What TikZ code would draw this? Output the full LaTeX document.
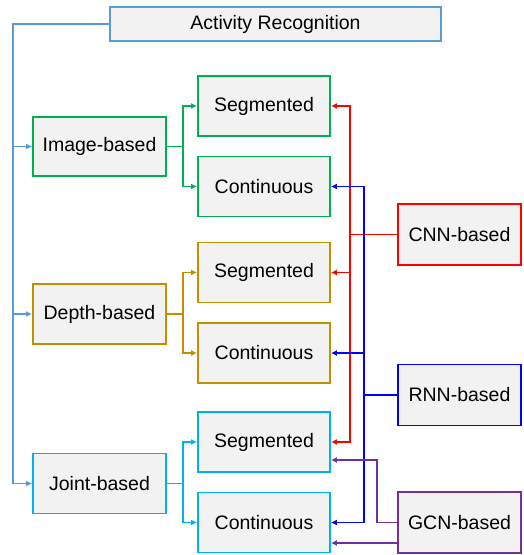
\documentclass[tikz,border=0pt]{standalone}
\usepackage{fontspec}
\setmainfont{Liberation Sans}
\usetikzlibrary{arrows.meta}
\definecolor{topblue}{HTML}{5B9BD5}
\definecolor{imggreen}{HTML}{00B050}
\definecolor{depgold}{HTML}{BF9000}
\definecolor{jntcyan}{HTML}{00B0F0}
\definecolor{gcnpurple}{HTML}{7030A0}
\definecolor{boxfill}{HTML}{F2F2F2}

\begin{document}
\begin{tikzpicture}[x=1pt,y=-1pt,line width=1.9pt,
  box/.style={draw,fill=boxfill,minimum width=132pt,minimum height=60pt,
    inner sep=0pt,font=\fontsize{19.5}{23}\selectfont},
  arr/.style={-{Latex[length=6pt,width=6pt]}}]
  \useasboundingbox (0,0) rectangle (523,555);
  \node[box,draw=topblue,minimum width=331pt,minimum height=34pt] (act) at (275.5,24) {Activity Recognition};
  \node[box,draw=imggreen,minimum width=133pt,minimum height=59pt] (img) at (99.5,146.5) {Image-based};
  \node[box,draw=imggreen] (imgseg) at (264,106) {Segmented};
  \node[box,draw=imggreen] (imgcon) at (264,186.5) {Continuous};
  \node[box,draw=depgold,minimum width=133pt] (dep) at (99.5,314) {Depth-based};
  \node[box,draw=depgold] (depseg) at (264,272.5) {Segmented};
  \node[box,draw=depgold] (depcon) at (264,353) {Continuous};
  \node[box,draw=jntcyan,minimum width=133pt] (jnt) at (99.5,483.5) {Joint-based};
  \node[box,draw=jntcyan] (jntseg) at (264,442) {Segmented};
  \node[box,draw=jntcyan] (jntcon) at (264,522.5) {Continuous};
  \node[box,draw=red,minimum width=123pt,minimum height=61pt] (cnn) at (459.5,234.5) {CNN-based};
  \node[box,draw=blue,minimum width=123pt,minimum height=61pt] (rnn) at (459.5,395) {RNN-based};
  \node[box,draw=gcnpurple,minimum width=123pt,minimum height=61pt] (gcn) at (459.5,522.5) {GCN-based};

  \coordinate (trunk) at (13,24);
  \draw[topblue] (act.west) -- (trunk) -- (trunk |- jnt.west);
  \draw[topblue,arr] (trunk |- img.west) -- (img.west);
  \draw[topblue,arr] (trunk |- dep.west) -- (dep.west);
  \draw[topblue,arr] (trunk |- jnt.west) -- (jnt.west);

  \draw[imggreen] (img.east) -- ++(16,0) coordinate (gi);
  \draw[imggreen,arr] (gi) |- (imgseg.west);
  \draw[imggreen,arr] (gi) |- (imgcon.west);
  \draw[depgold] (dep.east) -- ++(16,0) coordinate (gd);
  \draw[depgold,arr] (gd) |- (depseg.west);
  \draw[depgold,arr] (gd) |- (depcon.west);
  \draw[jntcyan] (jnt.east) -- ++(16,0) coordinate (gj);
  \draw[jntcyan,arr] (gj) |- (jntseg.west);
  \draw[jntcyan,arr] (gj) |- (jntcon.west);

  \coordinate (cb) at (350,234.5);
  \draw[red] (cnn.west) -- (cb);
  \draw[red,arr] (cb) |- (imgseg.east);
  \draw[red,arr] (cb) |- (depseg.east);
  \draw[red,arr] (cb) |- (jntseg.east);

  \coordinate (rb) at (364,395);
  \draw[blue] (rnn.west) -- (rb);
  \draw[blue,arr] (rb) |- (imgcon.east);
  \draw[blue,arr] (rb) |- (depcon.east);
  \draw[blue,arr] (rb) |- (jntcon.east);

  \coordinate (gb) at (377,522.5);
  \draw[gcnpurple,arr] (gcn.west) -- (gb) |- ([yshift=-18pt]jntseg.east);
  \draw[gcnpurple,arr] ([yshift=-20.5pt]gcn.west) -- ([yshift=-20.5pt]jntcon.east);
\end{tikzpicture}
\end{document}
